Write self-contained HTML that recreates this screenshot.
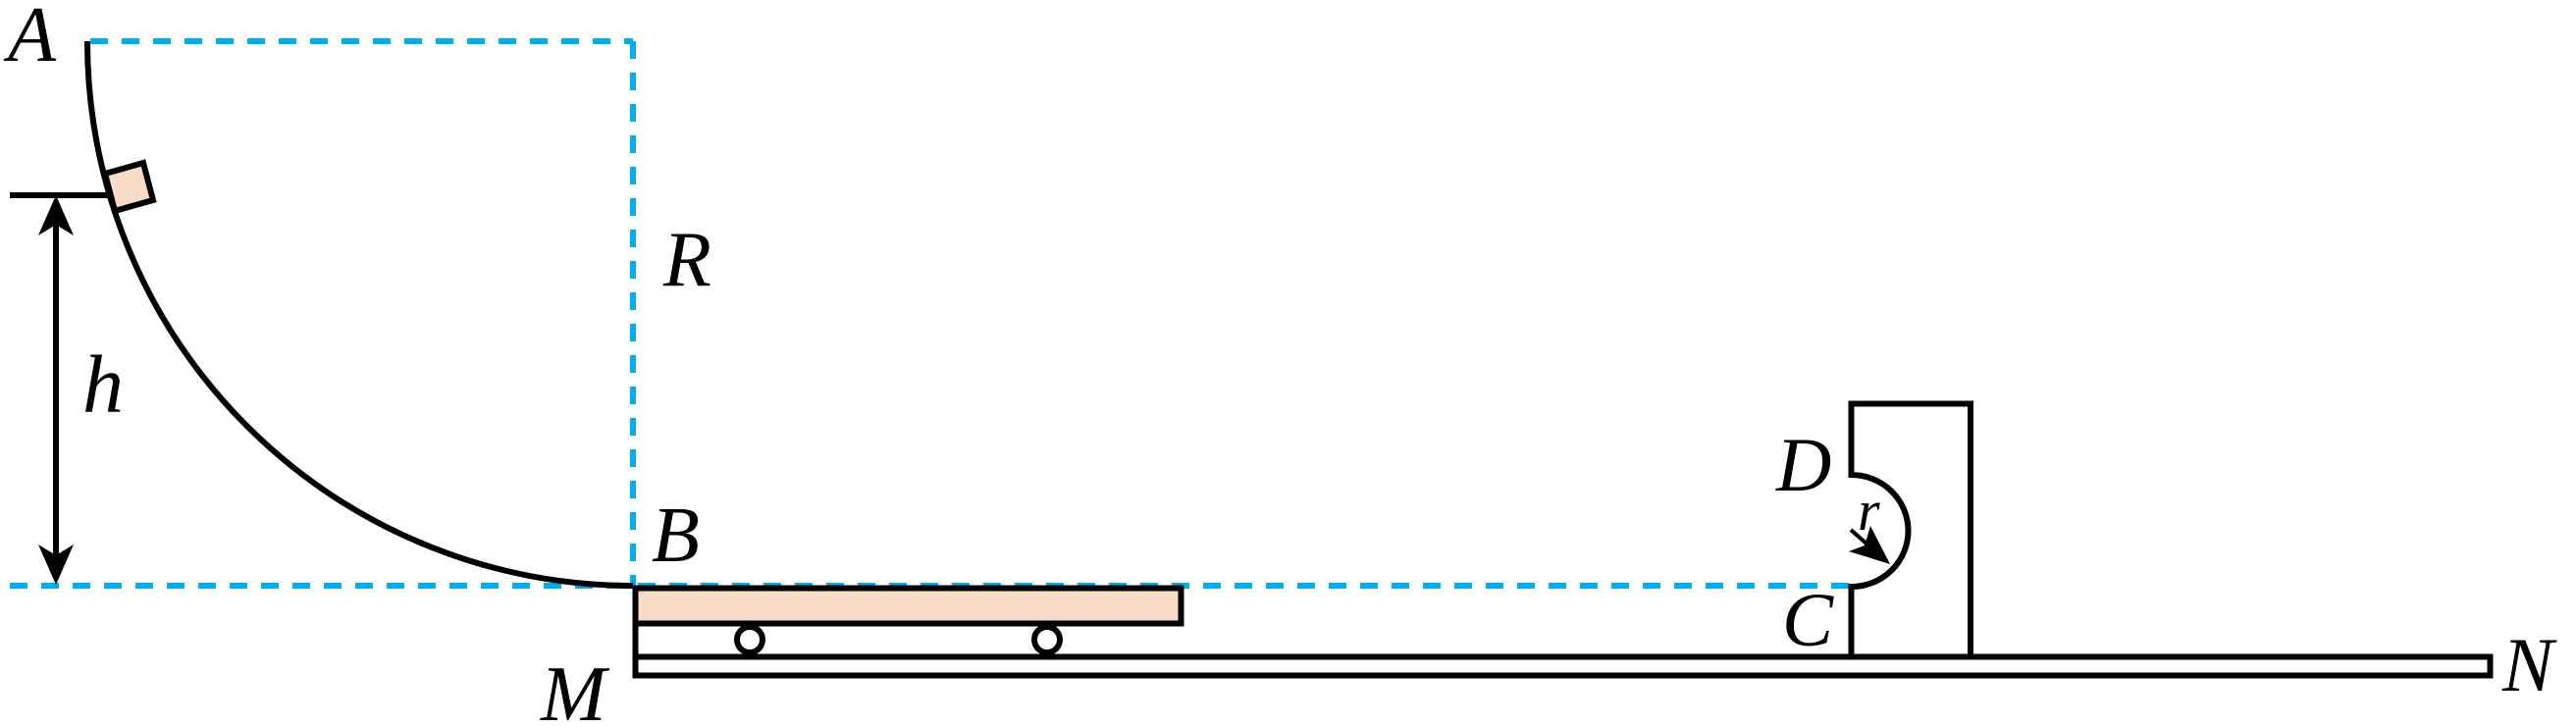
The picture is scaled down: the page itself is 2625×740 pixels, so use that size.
<!DOCTYPE html>
<html><head><meta charset="utf-8"><style>html,body{margin:0;padding:0;background:#fff}svg{display:block}text{font-family:"Liberation Serif",serif;font-style:italic;fill:#000}</style></head>
<body>
<svg width="2625" height="740" viewBox="0 0 2625 740" xmlns="http://www.w3.org/2000/svg">
<g stroke="#00aeef" stroke-width="6" fill="none" stroke-dasharray="18 14">
<line x1="92" y1="42" x2="645" y2="42"/>
<line x1="645" y1="42" x2="645" y2="597"/>
<line x1="10" y1="597" x2="1884" y2="597"/>
</g>
<path d="M89 42 A556 555 0 0 0 645 597" stroke="#000" stroke-width="6" fill="none"/>
<polygon points="107,177 146,166 156,204 117,215" fill="#f9dcc8" stroke="#000" stroke-width="6"/>
<line x1="10" y1="199" x2="112" y2="199" stroke="#000" stroke-width="6"/>
<line x1="57" y1="225" x2="57" y2="570" stroke="#000" stroke-width="6"/>
<polygon points="57,199 39,240 57,229 75,240" fill="#000"/>
<polygon points="57,596 39,555 57,566 75,555" fill="#000"/>
<rect x="647.5" y="599.5" width="556" height="36" fill="#f9dcc8" stroke="#000" stroke-width="6"/>
<line x1="647.5" y1="597" x2="647.5" y2="690" stroke="#000" stroke-width="6"/>
<rect x="647.5" y="669.5" width="1890" height="19" fill="#fff" stroke="#000" stroke-width="6"/>
<circle cx="764" cy="652" r="13" fill="#fff" stroke="#000" stroke-width="6"/>
<circle cx="1067" cy="652" r="13" fill="#fff" stroke="#000" stroke-width="6"/>
<path d="M1886.5 667 V598 A58 57 0 0 0 1886.5 484 V411.5 H2008 V667" fill="none" stroke="#000" stroke-width="6"/>
<line x1="1886" y1="540" x2="1912" y2="563" stroke="#000" stroke-width="4"/>
<polygon points="1926,575 1884,562 1900,556 1906,536" fill="#000"/>
<text x="8" y="62" font-size="80">A</text>
<text x="84" y="420" font-size="84">h</text>
<text x="676" y="291" font-size="80">R</text>
<text x="664" y="572" font-size="80">B</text>
<text x="551" y="734" font-size="80">M</text>
<text x="1810" y="500" font-size="78">D</text>
<text x="1816" y="658" font-size="78">C</text>
<text x="1893" y="540" font-size="58">r</text>
<text x="2550" y="704" font-size="78">N</text>
</svg>
</body></html>
